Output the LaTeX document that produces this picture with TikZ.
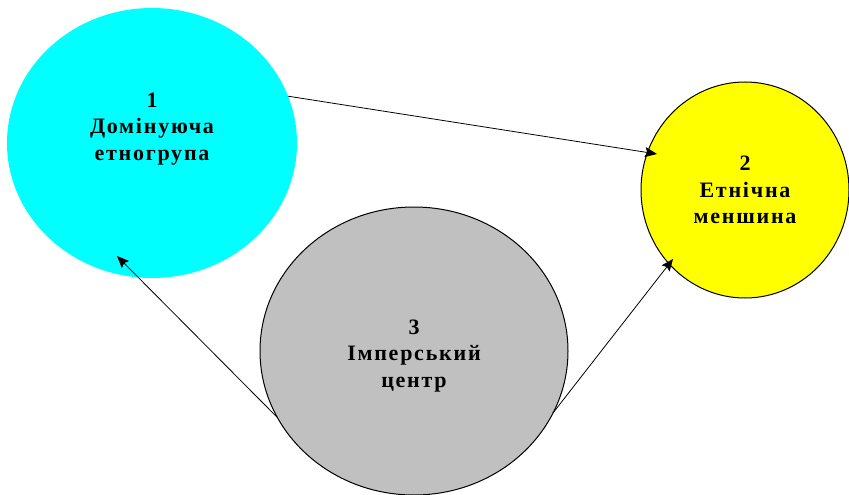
\documentclass[tikz,border=0pt]{standalone}
\usepackage{fontspec}
\setmainfont{Liberation Serif}[LetterSpace=8]
\usetikzlibrary{shapes.geometric,arrows.meta}
\definecolor{aqua}{RGB}{0,255,255}
\definecolor{yel}{RGB}{255,255,0}
\definecolor{silv}{RGB}{192,192,192}
\begin{document}
\begin{tikzpicture}[x=1pt,y=-1pt,
  blob/.style={ellipse,inner sep=0pt,outer sep=0pt},
  lbl/.style={align=center,font=\bfseries\fontsize{22}{26.5}\selectfont,text=black},
  arr/.style={line width=0.8pt,-{Stealth[length=12pt,width=10pt,inset=2pt]}}]
\useasboundingbox (0,0) rectangle (849,495);
\node[blob,fill=aqua,minimum width=290pt,minimum height=270pt] (c1) at (152,143) {};
\node[blob,fill=yel,draw=black,line width=1pt,minimum width=208pt,minimum height=216pt] (c2) at (745,190) {};
\node[blob,fill=silv,draw=black,line width=1pt,minimum width=308pt,minimum height=288pt] (c3) at (414,351) {};
\node[lbl] (t1) at (152,129) {1\\Домінуюча\\етногрупа};
\node[lbl] (t2) at (745,190) {2\\Етнічна\\меншина};
\node[lbl] (t3) at (414,356) {3\\Імперський\\центр};
\coordinate (e1) at (657,154);
\coordinate (e2) at (117,256);
\coordinate (e3) at (673,259);
\draw[arr] (c1.19.4) -- (e1);
\draw[arr] (c3.206.6) -- (e2);
\draw[arr] (c3.-24) -- (e3);
\end{tikzpicture}
\end{document}
